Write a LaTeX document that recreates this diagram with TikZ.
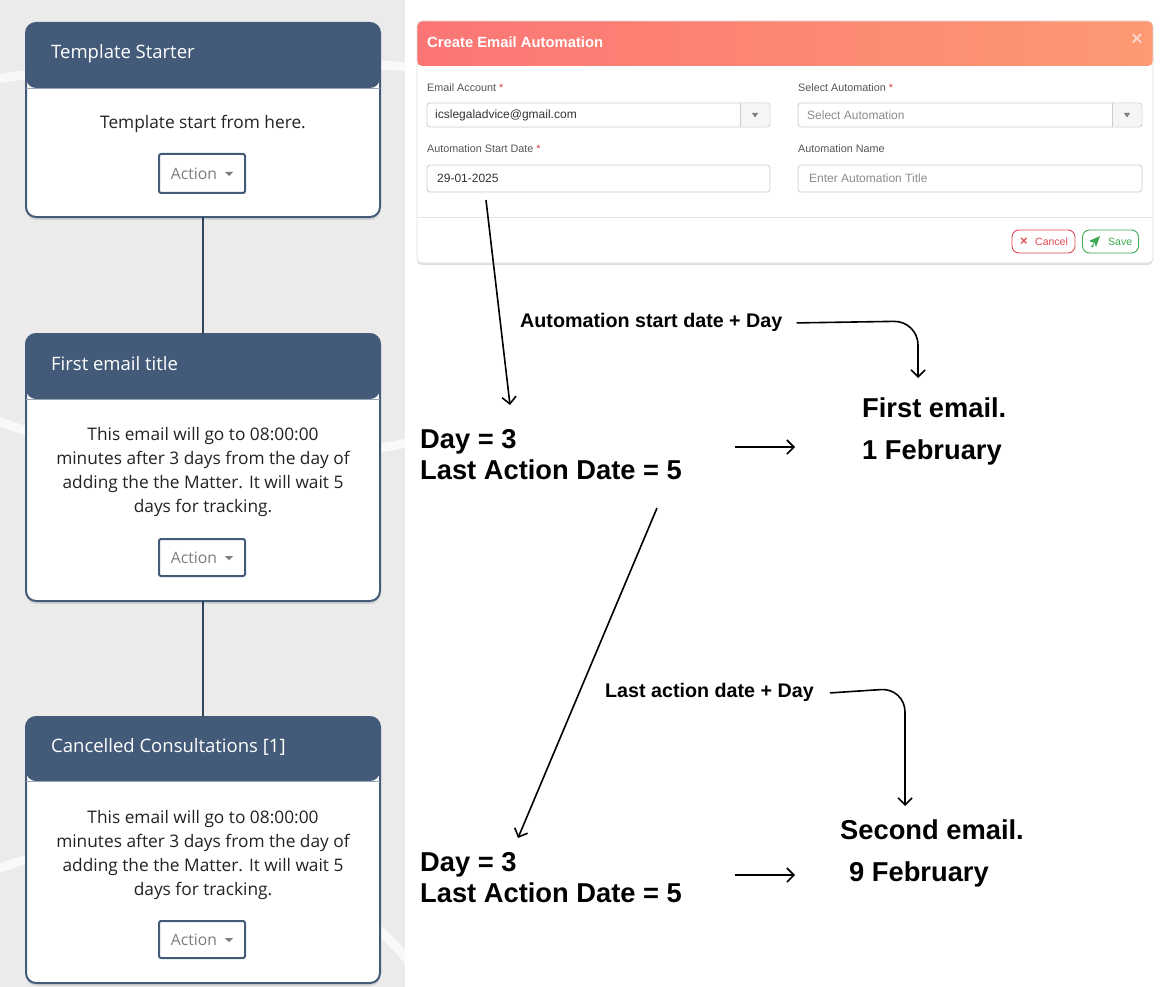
\documentclass[tikz,border=0pt]{standalone}
\usepackage{fontspec}
\setmainfont{Liberation Sans}
\newfontfamily\cardfont{Open Sans}
\newfontfamily\formfont{Liberation Sans}
\newfontfamily\notefont{Liberation Sans}
\usetikzlibrary{arrows.meta,shadows,calc}

\definecolor{panelbg}{RGB}{235,235,235}
\definecolor{hdr}{RGB}{67,91,120}
\definecolor{cardtxt}{RGB}{34,34,34}
\definecolor{actgray}{RGB}{125,125,125}
\definecolor{dlgleft}{RGB}{251,117,117}
\definecolor{dlgright}{RGB}{253,153,115}
\definecolor{lblgray}{RGB}{85,85,85}
\definecolor{inbord}{RGB}{204,204,204}
\definecolor{phgray}{RGB}{140,140,140}
\definecolor{fieldtxtc}{RGB}{51,51,51}
\definecolor{reqred}{RGB}{221,60,60}
\definecolor{cancelred}{RGB}{226,72,82}
\definecolor{savegreen}{RGB}{58,170,82}
\definecolor{closec}{RGB}{252,210,200}

\tikzset{
  bgcurve/.style={draw=white, line width=9pt, opacity=0.7},
  card/.style={draw=hdr, line width=2pt, fill=white, rounded corners=10pt,
    drop shadow={opacity=0.22, shadow xshift=0pt, shadow yshift=-3pt},
    minimum width=354pt, inner sep=0pt, outer sep=0pt},
  cardhead/.style={path picture={\fill[hdr] (path picture bounding box.north west) rectangle ([yshift=-#1]path picture bounding box.north east);}},
  cardtitle/.style={font=\cardfont\fontsize{18.5}{22}\selectfont, text=white, inner sep=0pt, anchor=west},
  cardbody/.style={font=\cardfont\fontsize{17.3}{24}\selectfont, text=cardtxt, align=center, inner sep=0pt},
  actbtn/.style={draw=hdr, line width=2pt, fill=white, rounded corners=2pt, minimum width=86pt, inner sep=0pt, outer sep=0pt},
  acttxt/.style={font=\cardfont\fontsize{15.7}{18}\selectfont, text=actgray, inner sep=0pt},
  conn/.style={draw=hdr!75!black, line width=2pt},
  dialog/.style={draw=black!12, line width=0.6pt, fill=white, rounded corners=5pt,
    drop shadow={opacity=0.25, shadow xshift=0pt, shadow yshift=-2pt},
    minimum width=736pt, minimum height=242pt, inner sep=0pt, outer sep=0pt,
    path picture={\shade[left color=dlgleft, right color=dlgright] (path picture bounding box.north west) rectangle ([yshift=-45pt]path picture bounding box.north east);}},
  dlgtitle/.style={font=\formfont\bfseries\fontsize{14.8}{17}\selectfont, text=white, inner sep=0pt, anchor=west},
  lbl/.style={font=\formfont\fontsize{10.8}{13}\selectfont, text=lblgray, inner sep=0pt, anchor=west},
  field/.style={draw=inbord, line width=0.8pt, fill=white, rounded corners=3pt, inner sep=0pt, outer sep=0pt},
  fieldtxt/.style={font=\formfont\fontsize{12}{14}\selectfont, text=fieldtxtc, inner sep=0pt, anchor=west},
  phtxt/.style={font=\formfont\fontsize{12}{14}\selectfont, text=phgray, inner sep=0pt, anchor=west},
  smallbtn/.style={line width=0.9pt, fill=white, rounded corners=7pt, minimum height=23pt, inner sep=0pt, outer sep=0pt, font=\formfont\fontsize{10.5}{12}\selectfont},
  bignote/.style={font=\notefont\bfseries\fontsize{27.3}{31}\selectfont, text=black, inner sep=0pt, anchor=base west},
  midnote/.style={font=\notefont\bfseries\fontsize{19.7}{23}\selectfont, text=black, inner sep=0pt, anchor=base west},
  notearrow/.style={draw=black, line width=1.6pt, -{Straight Barb[length=7pt,width=14pt,line width=1.6pt]}},
}

\begin{document}
\begin{tikzpicture}[x=1pt,y=-1pt]
\useasboundingbox (0,0) rectangle (1172,987);
\fill[white] (0,0) rectangle (1172,987);
\fill[panelbg] (0,0) rectangle (405,987);
\begin{scope}
  \clip (0,0) rectangle (405,987);
  \draw[bgcurve] (-10,80) .. controls (130,58) and (280,56) .. (420,68);
  \draw[bgcurve] (-10,418) .. controls (120,470) and (300,468) .. (420,440);
  \draw[bgcurve] (-10,872) .. controls (120,820) and (300,820) .. (420,975);
\end{scope}

% cards and connectors
\node[card, minimum height=194pt, cardhead=65pt] (c1) at (203,120) {};
\node[card, minimum height=267pt, cardhead=65pt] (c2) at (203,467.5) {};
\node[card, minimum height=266pt, cardhead=64pt] (c3) at (203,850) {};
\draw[conn] (c1.south) -- (c2.north);
\draw[conn] (c2.south) -- (c3.north);

\draw[hdr!55, line width=0.8pt] ([yshift=-65pt]c1.north west) -- ([yshift=-65pt]c1.north east);
\draw[hdr!55, line width=0.8pt] ([yshift=-65pt]c2.north west) -- ([yshift=-65pt]c2.north east);
\draw[hdr!55, line width=0.8pt] ([yshift=-64pt]c3.north west) -- ([yshift=-64pt]c3.north east);

% card 1
\node[cardtitle] (t1) at (51,53.5) {Template Starter};
\node[cardbody] (b1) at (203,124) {Template start from here.};
\node[actbtn, minimum height=39pt] (a1) at (202,173.5) {};
\node[acttxt] (a1t) at (194,173.5) {Action};
\fill[actgray] (225,172) -- (233,172) -- (229,176) -- cycle;

% card 2
\node[cardtitle] (t2) at (51,363.5) {First email title};
\node[cardbody] (b2) at (203,472) {This email will go to 08:00:00\\minutes after 3 days from the day of\\adding the the Matter. It will wait 5\\days for tracking.};
\node[actbtn, minimum height=37pt] (a2) at (202,557.5) {};
\node[acttxt] (a2t) at (194,557.5) {Action};
\fill[actgray] (225,556) -- (233,556) -- (229,560) -- cycle;

% card 3
\node[cardtitle] (t3) at (51,746.5) {Cancelled Consultations [1]};
\node[cardbody] (b3) at (203,854.5) {This email will go to 08:00:00\\minutes after 3 days from the day of\\adding the the Matter. It will wait 5\\days for tracking.};
\node[actbtn, minimum height=37pt] (a3) at (202,939.5) {};
\node[acttxt] (a3t) at (194,939.5) {Action};
\fill[actgray] (225,938) -- (233,938) -- (229,942) -- cycle;

% dialog
\node[dialog] (dlg) at (785,142) {};
\node[dlgtitle] (dt) at (427,42) {Create Email Automation};
\node[font=\formfont\bfseries\fontsize{20}{22}\selectfont, text=closec, inner sep=0pt] (dx) at (1137,40) {×};

\node[lbl] (l1) at (427,88) {Email Account \textcolor{reqred}{*}};
\node[lbl] (l2) at (798,88) {Select Automation \textcolor{reqred}{*}};
\node[lbl] (l3) at (427,149) {Automation Start Date \textcolor{reqred}{*}};
\node[lbl] (l4) at (798,149) {Automation Name};

\node[field, minimum width=343pt, minimum height=24pt] (f1) at (598.5,115) {};
\fill[black!4] ([xshift=-30pt,yshift=-0.6pt]f1.north east) -- ([xshift=-3pt,yshift=-0.6pt]f1.north east) -- ([xshift=-0.6pt,yshift=-3pt]f1.north east) -- ([xshift=-0.6pt,yshift=3pt]f1.south east) -- ([xshift=-3pt,yshift=0.6pt]f1.south east) -- ([xshift=-30pt,yshift=0.6pt]f1.south east) -- cycle;
\draw[inbord, line width=0.8pt] ([xshift=-30pt]f1.north east) -- ([xshift=-30pt]f1.south east);
\fill[actgray] (752,113) -- (758,113) -- (755,117.5) -- cycle;
\node[fieldtxt] (f1t) at (435,115) {icslegaladvice@gmail.com};

\node[field, minimum width=344pt, minimum height=24pt] (f2) at (970,115) {};
\fill[black!4] ([xshift=-30pt,yshift=-0.6pt]f2.north east) -- ([xshift=-3pt,yshift=-0.6pt]f2.north east) -- ([xshift=-0.6pt,yshift=-3pt]f2.north east) -- ([xshift=-0.6pt,yshift=3pt]f2.south east) -- ([xshift=-3pt,yshift=0.6pt]f2.south east) -- ([xshift=-30pt,yshift=0.6pt]f2.south east) -- cycle;
\draw[inbord, line width=0.8pt] ([xshift=-30pt]f2.north east) -- ([xshift=-30pt]f2.south east);
\fill[actgray] (1124,113) -- (1130,113) -- (1127,117.5) -- cycle;
\node[phtxt] (f2t) at (807,115) {Select Automation};

\node[field, minimum width=343pt, minimum height=27pt] (f3) at (598.5,178.5) {};
\node[fieldtxt] (f3t) at (437,178.5) {29-01-2025};
\node[field, minimum width=344pt, minimum height=27pt] (f4) at (970,178.5) {};
\node[phtxt] (f4t) at (809,178.5) {Enter Automation Title};

\draw[black!10, line width=0.8pt] (417,217) -- (1153,217);

\node[smallbtn, draw=cancelred, minimum width=63pt] (cancel) at (1043.5,241.5) {};
\node[font=\formfont\bfseries\fontsize{13}{14}\selectfont, text=cancelred, inner sep=0pt] (cx) at (1024,241.5) {×};
\node[font=\formfont\fontsize{10.5}{12}\selectfont, text=cancelred, inner sep=0pt, anchor=west] (ct) at (1035,241.5) {Cancel};
\node[smallbtn, draw=savegreen, minimum width=56pt] (save) at (1110.5,241.5) {};
\fill[savegreen] (1089,241) -- (1100,236) -- (1096,247) -- (1094.5,243) -- cycle;
\fill[savegreen] (1091,246.5) -- (1094,243) -- (1093,247.5) -- cycle;
\node[font=\formfont\fontsize{10.5}{12}\selectfont, text=savegreen, inner sep=0pt, anchor=west] (st) at (1108,241.5) {Save};

% annotations
\coordinate (pA1) at (486,200);
\coordinate (pA2) at (510,405);
\draw[notearrow] (pA1) -- (pA2);

\node[midnote] (lab1) at (520,327) {Automation start date + Day};
\coordinate (e1) at (918,378);
\draw[notearrow, rounded corners=24pt] ([xshift=14pt,yshift=-1pt]lab1.east) -- (918,321) -- (e1);

\node[bignote] (d1) at (420,448) {Day = 3};
\node[bignote] (d2) at (420,479) {Last Action Date = 5};
\coordinate (s1a) at (735,447);
\coordinate (s1b) at (795,447);
\draw[notearrow] (s1a) -- (s1b);

\node[bignote] (r1) at (862,417) {First email.};
\node[bignote] (r2) at (862,459) {1 February};

\coordinate (pB1) at (657,508);
\coordinate (pB2) at (518,838);
\draw[notearrow] (pB1) -- (pB2);

\node[midnote] (lab2) at (605,697) {Last action date + Day};
\coordinate (e2) at (905,806);
\draw[notearrow, rounded corners=24pt] ([xshift=16pt,yshift=-1pt]lab2.east) -- (905,688) -- (e2);

\node[bignote] (d3) at (420,871) {Day = 3};
\node[bignote] (d4) at (420,902) {Last Action Date = 5};
\coordinate (s2a) at (735,875);
\coordinate (s2b) at (795,875);
\draw[notearrow] (s2a) -- (s2b);

\node[bignote] (r3) at (840,839) {Second email.};
\node[bignote] (r4) at (849,881) {9 February};
\end{tikzpicture}
\end{document}
